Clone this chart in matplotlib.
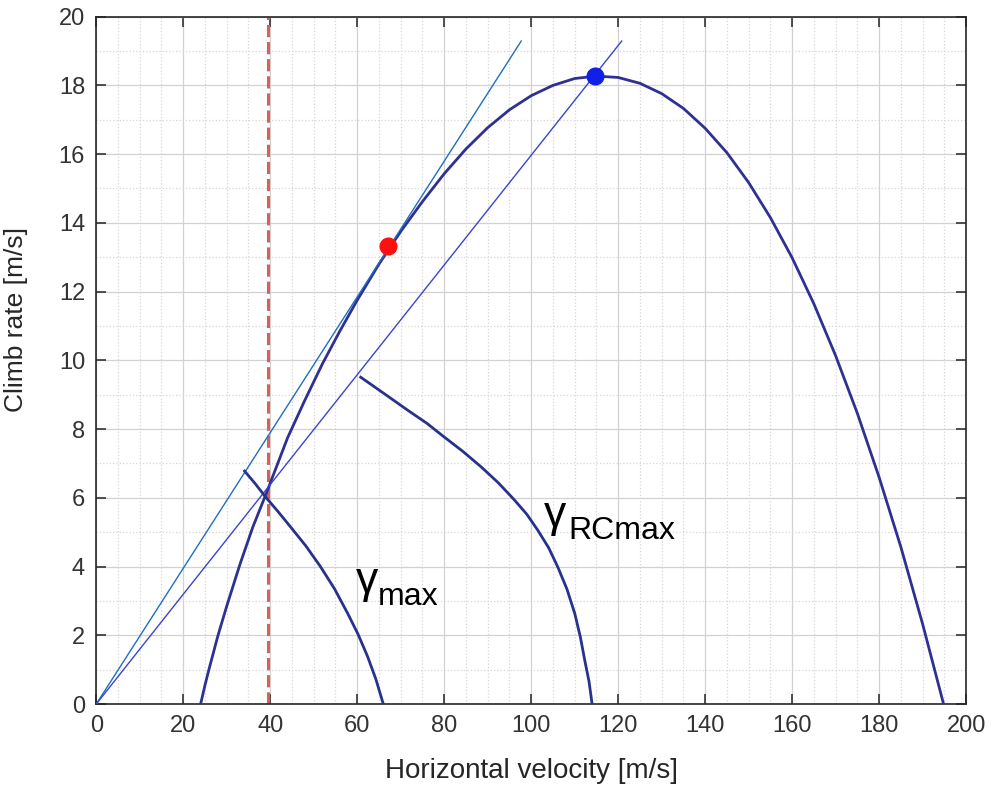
import matplotlib.pyplot as plt
from matplotlib.ticker import MultipleLocator

plt.rcParams['font.family'] = ['Liberation Sans', 'DejaVu Sans']

# climb rate curve (velocity m/s, climb rate m/s)
vel = [24.0, 25.0, 26.0, 28.0, 30.0, 33.0, 36.0, 39.0, 44.0, 48.0, 52.0,
       56.0, 60.0, 65.0, 70.0, 75.0, 80.0, 85.0, 90.0, 95.0, 100.0, 105.0,
       110.0, 115.0, 120.0, 125.0, 130.0, 135.0, 140.0, 145.0, 150.0, 155.0,
       160.0, 165.0, 170.0, 175.0, 180.0, 185.0, 190.0, 194.8]
climb = [0.0, 0.55, 1.05, 2.0, 2.85, 4.05, 5.15, 6.1, 7.75, 8.85, 9.9,
         10.85, 11.75, 12.8, 13.75, 14.62, 15.43, 16.15, 16.77, 17.29, 17.70,
         18.0, 18.2, 18.27, 18.23, 18.06, 17.76, 17.33, 16.75, 16.04, 15.17,
         14.15, 12.98, 11.64, 10.13, 8.45, 6.59, 4.56, 2.32, 0.0]

# special points
v_gmax, rc_gmax = 67.0, 13.32
v_rcmax, rc_rcmax = 114.6, 18.27
v_stall = 39.5

# tangent / secant lines from the origin (end points)
tan1_x, tan1_y = [0.0, 97.7], [0.0, 19.29]
tan2_x, tan2_y = [0.0, 120.8], [0.0, 19.29]

# angle arcs
arc_max_x = [34.1, 36.5, 38.9, 41.8, 44.7, 48.2, 51.6, 54.8, 57.8, 60.2,
             62.4, 64.3, 66.0]
arc_max_y = [6.78, 6.42, 6.03, 5.6, 5.15, 4.6, 3.99, 3.35, 2.64, 2.03,
             1.38, 0.72, 0.0]
arc_rc_x = [60.8, 66.0, 71.6, 76.0, 80.0, 84.3, 88.5, 92.5, 96.2, 99.0,
            101.5, 104.0, 106.1, 108.2, 110.0, 111.3, 112.3, 113.3, 114.0]
arc_rc_y = [9.51, 9.05, 8.55, 8.17, 7.77, 7.35, 6.90, 6.43, 5.93, 5.52,
            5.06, 4.55, 3.99, 3.35, 2.64, 1.95, 1.28, 0.65, 0.0]

fig = plt.figure(figsize=(9.92, 7.92), dpi=100)
ax = fig.add_axes([0.097, 0.111, 0.877, 0.868])

ax.plot(vel, climb, color='#2e3192', linewidth=2.0, zorder=3)
ax.plot(tan1_x, tan1_y, color='#1f6fc0', linewidth=1.0, zorder=4)
ax.plot(tan2_x, tan2_y, color='#3a44d0', linewidth=1.0, zorder=4)
ax.axvline(v_stall, color='#d9605a', linewidth=2.2, dashes=(4, 1.6), zorder=2)
ax.plot(arc_max_x, arc_max_y, color='#26328c', linewidth=2.0, zorder=4)
ax.plot(arc_rc_x, arc_rc_y, color='#26328c', linewidth=2.0, zorder=4)
ax.plot(v_gmax, rc_gmax, 'o', color='#ff1010', markersize=12, zorder=5)
ax.plot(v_rcmax, rc_rcmax, 'o', color='#1020e8', markersize=12, zorder=5)

# gamma labels
ax.text(59.7, 3.23, 'γ', fontsize=32, ha='left', va='baseline', color='black')
ax.text(64.7, 2.88, 'max', fontsize=23, ha='left', va='baseline', color='black')
ax.text(103.0, 5.15, 'γ', fontsize=32, ha='left', va='baseline', color='black')
ax.text(108.5, 4.80, 'RCmax', fontsize=23, ha='left', va='baseline', color='black')

ax.set_xlim(0, 200)
ax.set_ylim(0, 20)
ax.xaxis.set_major_locator(MultipleLocator(20))
ax.xaxis.set_minor_locator(MultipleLocator(5))
ax.yaxis.set_major_locator(MultipleLocator(2))
ax.yaxis.set_minor_locator(MultipleLocator(1))

ax.grid(which='major', color='#d2d2d2', linestyle='-', linewidth=0.9)
ax.grid(which='minor', color='#d6d6d6', linestyle=':', linewidth=0.9)
ax.set_axisbelow(True)

ax.tick_params(which='major', direction='in', length=7, width=1.2,
               top=True, right=True, labelsize=17, colors='#333333', pad=8)
ax.tick_params(which='minor', length=0)
for s in ax.spines.values():
    s.set_color('#262626')
    s.set_linewidth(1.2)

ax.set_xlabel('Horizontal velocity [m/s]', fontsize=20, color='#262626')
ax.set_ylabel('Climb rate [m/s]', fontsize=19, color='#262626')
ax.xaxis.set_label_coords(0.5, -0.078)
ax.yaxis.set_label_coords(-0.078, 0.56)

fig.savefig('out.png', dpi=100)
